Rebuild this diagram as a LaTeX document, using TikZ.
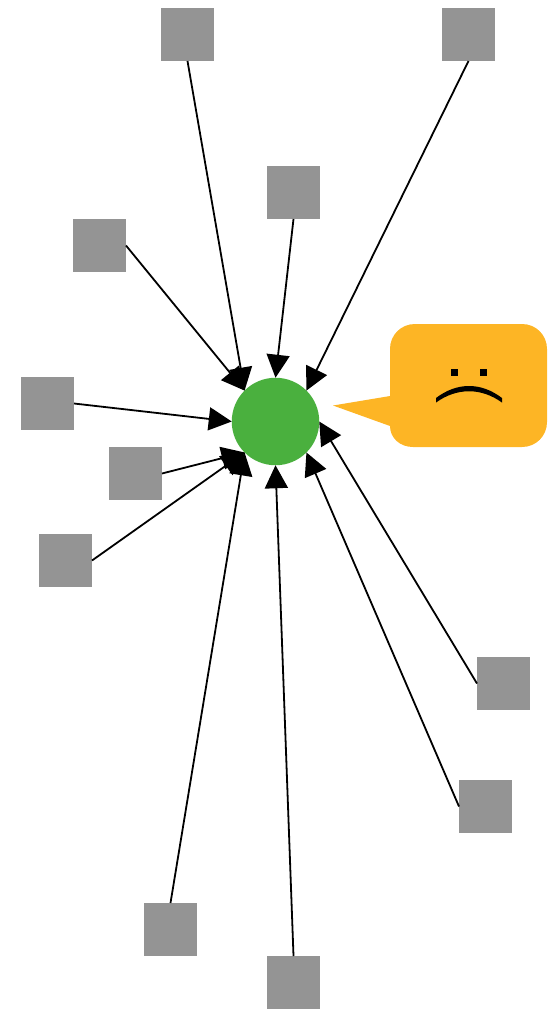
\documentclass[tikz,border=0pt]{standalone}
\usetikzlibrary{arrows.meta}
\definecolor{sq}{HTML}{949494}
\definecolor{hub}{HTML}{4AB03E}
\definecolor{bub}{HTML}{FDB525}
\tikzset{
  sqnode/.style={rectangle,fill=sq,draw=none,inner sep=0pt,outer sep=0pt,minimum size=53pt},
  hubnode/.style={circle,fill=hub,draw=none,inner sep=0pt,outer sep=0pt,minimum size=87.5pt},
  conn/.style={draw=black,line width=1.8pt,-{Triangle[length=23pt,width=23pt]}}
}
\begin{document}
\begin{tikzpicture}[x=1pt,y=-1pt]
\useasboundingbox (0,0) rectangle (554,1010);
\node[hubnode] (c) at (275.5,421.5) {};
\node[sqnode] (s1) at (187.5,34.5) {};
\node[sqnode] (s2) at (468.5,34.5) {};
\node[sqnode] (s3) at (293.5,192.5) {};
\node[sqnode] (s4) at (99.5,245.5) {};
\node[sqnode] (s5) at (47.5,403.5) {};
\node[sqnode] (s6) at (135.5,473.5) {};
\node[sqnode] (s7) at (65.5,560.5) {};
\node[sqnode] (s8) at (503.5,683.5) {};
\node[sqnode] (s9) at (485.5,806.5) {};
\node[sqnode] (s10) at (170.5,929.5) {};
\node[sqnode] (s11) at (293.5,982.5) {};
\draw[conn] (s1.south) -- (c.135);
\draw[conn] (s2.south) -- (c.45);
\draw[conn] (s3.south) -- (c.north);
\draw[conn] (s4.east) -- (c.135);
\draw[conn] (s5.east) -- (c.west);
\draw[conn] (s6.east) -- (c.225);
\draw[conn] (s7.east) -- (c.225);
\draw[conn] (s8.west) -- (c.east);
\draw[conn] (s9.west) -- (c.315);
\draw[conn] (s10.north) -- (c.225);
\draw[conn] (s11.north) -- (c.south);
% speech bubble
\fill[bub] (333,405.5) -- (390,396) -- (390,349)
  .. controls (390,335) and (401,324) .. (415,324) -- (522,324)
  .. controls (536,324) and (547,335) .. (547,349) -- (547,422)
  .. controls (547,436) and (536,447) .. (522,447) -- (413,447)
  .. controls (400,447) and (390,438) .. (390,426) -- cycle;
% sad face
\fill[black] (450.5,368.5) rectangle (457.5,375.5);
\fill[black] (480,368.5) rectangle (487,375.5);
\fill[black] (436,398) .. controls (457,382) and (481,382) .. (502,398) -- (502,402.5) .. controls (481,387.5) and (457,387.5) .. (436,402.5) -- cycle;
\end{tikzpicture}
\end{document}
